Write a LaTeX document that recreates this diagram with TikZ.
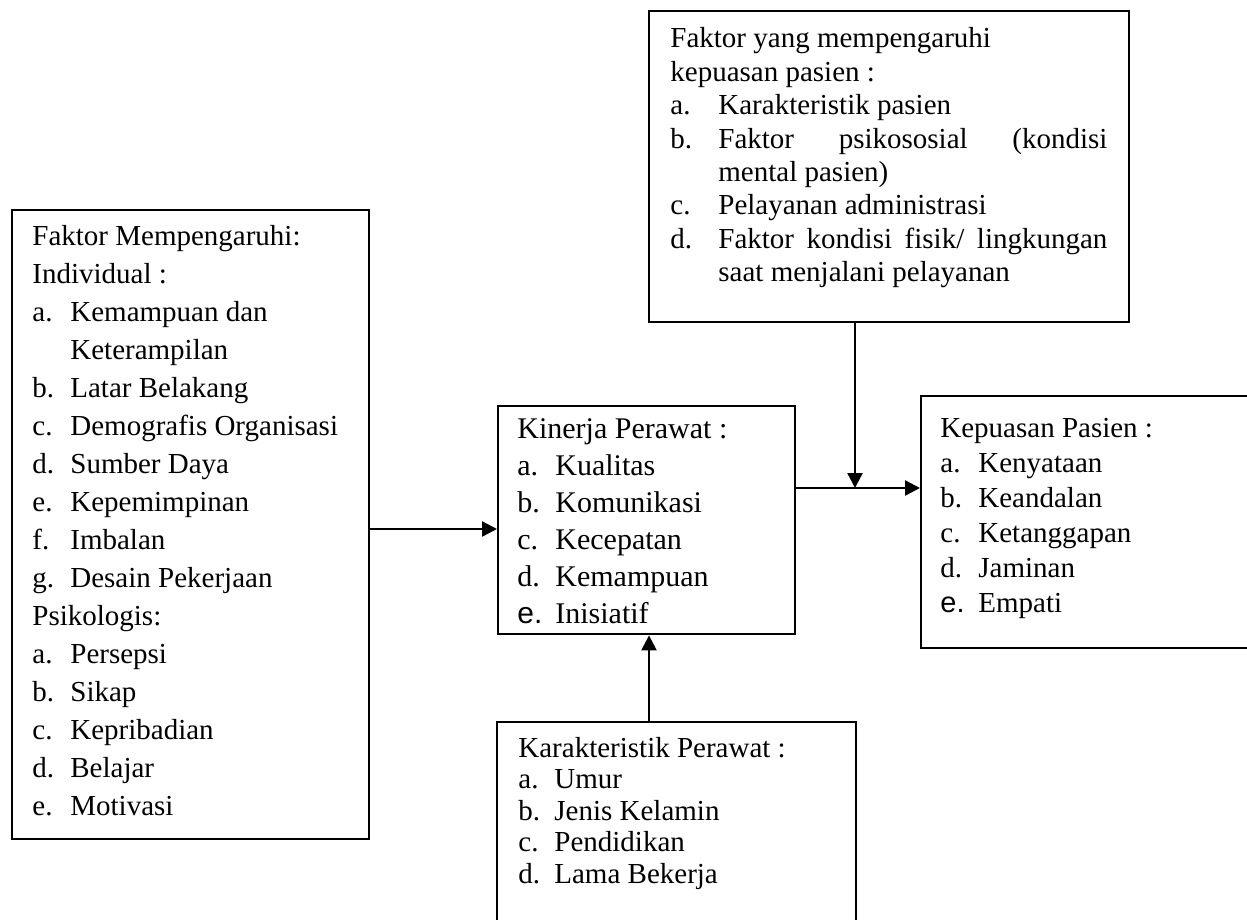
\documentclass[tikz,border=0pt]{standalone}
\usepackage{fontspec}
\setmainfont{Liberation Serif}
\newfontfamily\hurufsans{Liberation Sans}
\usetikzlibrary{arrows.meta}
\setlength{\parindent}{0pt}

% a column of lines whose baseline is its first line
\newcommand{\kolom}[2]{\vtop{\hsize=#1\relax\parindent=0pt\parskip=0pt #2\par}}
% one line of a list: label, then hanging text
\newcommand{\butir}[2][19pt]{\par\noindent\hangindent=#1\hangafter=1\makebox[#1][l]{#2}}
\newcommand{\baris}{\par\noindent}

\begin{document}
\begin{tikzpicture}[x=0.5pt,y=0.5pt,yscale=-1,xscale=1,
  kotak/.style={draw, line width=1.2pt, inner sep=0pt, anchor=north west},
  teks/.style={anchor=base west, inner sep=0pt},
  panah/.style={line width=1.2pt, -{Triangle[length=7.5pt,width=7.5pt]}}]
\useasboundingbox (0,0) rectangle (1247,920);

%Shape: Rectangle (faktor individu dan psikologis)
\node [kotak, minimum width=178.5pt, minimum height=314.5pt] (individu) at (11,209) {};
%Shape: Rectangle (faktor kepuasan)
\node [kotak, minimum width=240pt, minimum height=155.5pt] (faktor) at (648,10) {};
%Shape: Rectangle (kinerja)
\node [kotak, minimum width=148.5pt, minimum height=114pt] (kinerja) at (497,405) {};
%Shape: Rectangle (kepuasan)
\node [kotak, minimum width=171pt, minimum height=126pt] (kepuasan) at (920,395) {};
%Shape: Rectangle (karakteristik)
\node [kotak, minimum width=179.5pt, minimum height=107pt] (karakter) at (496,721) {};

% Text Node
\node [teks, font=\fontsize{14.5}{19}\selectfont] (individutxt) at (32,245) {\kolom{165pt}{%
\baris Faktor Mempengaruhi:
\baris Individual :
\butir{a.}Kemampuan dan\newline Keterampilan
\butir{b.}Latar Belakang
\butir{c.}Demografis Organisasi
\butir{d.}Sumber Daya
\butir{e.}Kepemimpinan
\butir{f.}Imbalan
\butir{g.}Desain Pekerjaan
\baris Psikologis:
\butir{a.}Persepsi
\butir{b.}Sikap
\butir{c.}Kepribadian
\butir{d.}Belajar
\butir{e.}Motivasi}};
% Text Node
\node [teks, font=\fontsize{14.5}{16.7}\selectfont] (faktortxt) at (670,48) {\kolom{218.5pt}{%
\baris Faktor yang mempengaruhi
\baris kepuasan pasien :
\butir[24pt]{a.}Karakteristik pasien
\butir[24pt]{b.}Faktor\hfill psikososial\hfill (kondisi\newline mental pasien)
\butir[24pt]{c.}Pelayanan administrasi
\butir[24pt]{d.}Faktor\hfill kondisi\hfill fisik/\hfill lingkungan\newline saat menjalani pelayanan}};
% Text Node
\node [teks, font=\fontsize{15}{18.5}\selectfont] (kinerjatxt) at (517,438) {\kolom{135pt}{%
\baris Kinerja Perawat :
\butir{a.}Kualitas
\butir{b.}Komunikasi
\butir{c.}Kecepatan
\butir{d.}Kemampuan
\butir{\hurufsans e.}Inisiatif}};
% Text Node
\node [teks, font=\fontsize{14.5}{17.5}\selectfont] (kepuasantxt) at (940,437) {\kolom{150pt}{%
\baris Kepuasan Pasien :
\butir{a.}Kenyataan
\butir{b.}Keandalan
\butir{c.}Ketanggapan
\butir{d.}Jaminan
\butir{\hurufsans e.}Empati}};
% Text Node
\node [teks, font=\fontsize{14.5}{15.75}\selectfont] (karaktertxt) at (518,757) {\kolom{160pt}{%
\baris Karakteristik Perawat :
\butir[18pt]{a.}Umur
\butir[18pt]{b.}Jenis Kelamin
\butir[18pt]{c.}Pendidikan
\butir[18pt]{d.}Lama Bekerja}};

\coordinate (tA) at (430,529);
\coordinate (temu) at (855,488);
\coordinate (tB) at (649,680);
%Straight Lines
\draw [panah] (individu.east |- tA) -- (kinerja.west |- tA);
%Straight Lines
\draw [panah] (kinerja.east |- temu) -- (kepuasan.west |- temu);
%Straight Lines
\draw [panah] (faktor.south -| temu) -- (temu);
%Straight Lines
\draw [panah] (karakter.north -| tB) -- (kinerja.south -| tB);

\end{tikzpicture}
\end{document}
